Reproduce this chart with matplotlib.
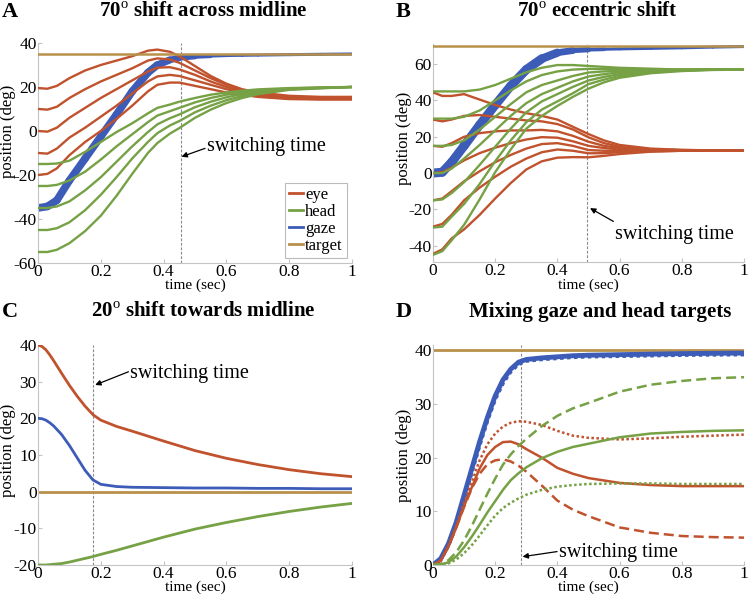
import numpy as np
import matplotlib
matplotlib.use('Agg')
import matplotlib.pyplot as plt
from matplotlib.collections import LineCollection
from matplotlib.lines import Line2D

plt.rcParams['font.family'] = ['Liberation Serif', 'DejaVu Serif']
plt.rcParams['mathtext.fontset'] = 'custom'
plt.rcParams['mathtext.rm'] = 'Liberation Serif'
plt.rcParams['mathtext.bf'] = 'Liberation Serif:bold'
plt.rcParams['axes.unicode_minus'] = False

EYE = '#c0522d'
HEAD = '#76a145'
GAZE = '#3d5cb8'
TARGET = '#b8914b'

# ---- panel A: 70 deg shift across midline ----
tA = [0, .03, .06, .1, .15, .2, .25, .3, .35, .38, .42, .45, .5, .55, .6, .65, .7, .8, .9, 1]
eyeA = [
    [19.5, 19.2, 20.5, 24, 27.5, 30, 32, 34, 36.5, 37, 36, 34, 29.5, 25, 21.5, 19, 17.5, 16, 15.5, 15.5],
    [10, 9.7, 11, 15, 19, 22.5, 25.5, 28.5, 32, 33, 32.5, 31, 27.5, 24, 21, 18.5, 17, 15.5, 15, 15],
    [0, -0.3, 1.5, 6, 10.5, 15, 19, 23, 27, 28.8, 29, 28, 25.5, 22.5, 20, 18, 16.5, 15, 14.8, 14.8],
    [-10, -10.3, -8, -3, 1.5, 6.5, 11.5, 17, 22.5, 24.8, 25.5, 25, 23, 21, 19, 17.5, 16, 14.8, 14.5, 14.5],
    [-20, -19.5, -17, -11, -5, 0, 5.5, 11.5, 18, 21, 22, 22, 20.5, 19, 17.5, 16.5, 15.5, 14.5, 14.3, 14.3],
]
headA = [
    [-15, -15, -14.8, -13.5, -9.5, -5, -0.5, 3.5, 8, 10.5, 12, 13.3, 15, 16.5, 17.5, 18.3, 18.9, 19.5, 19.8, 20],
    [-25, -25, -24.5, -22.5, -18.5, -13, -7, -1.5, 4, 7, 9, 10.5, 13, 15, 16.5, 17.5, 18.4, 19.3, 19.7, 20],
    [-35, -35, -34.3, -32, -27, -21, -14, -7, -0.5, 3, 5.8, 7.5, 10.8, 13.3, 15.3, 16.8, 17.9, 19.1, 19.6, 20],
    [-45, -45, -44.2, -41.5, -36, -29, -21, -12.5, -5, -1, 2.5, 4.5, 8.5, 11.5, 14, 15.9, 17.3, 18.9, 19.5, 20],
    [-55, -55, -54, -51, -45.5, -38.5, -29.5, -19.5, -10, -5.5, -1.2, 1.3, 6, 9.7, 12.7, 15, 16.7, 18.7, 19.4, 20],
]
gazeA = [-35, -34.3, -31.5, -22.5, -12.5, -2.5, 7.5, 18, 26.5, 30, 32.3, 33.2, 33.8, 34.1, 34.3, 34.4, 34.5, 34.7, 34.85, 35]
targetA = 35
switchA = 0.455

# ---- panel B: 70 deg eccentric shift ----
tB = [0, .03, .06, .1, .15, .2, .25, .3, .35, .4, .45, .5, .55, .6, .7, .8, .9, 1]
eyeB = [
    [44.5, 42.5, 42.5, 43.5, 40.5, 37.5, 35, 33, 31.5, 29.5, 25.5, 21.5, 18, 15.5, 13.5, 12.8, 12.5, 12.5],
    [29.5, 28.5, 29.5, 31.5, 32, 31, 30, 29, 28.5, 27, 24, 19.7, 16.5, 14.5, 13, 12.7, 12.5, 12.5],
    [15, 14.5, 16.5, 20, 22, 23, 23.5, 23.5, 23.8, 23, 20.5, 17.3, 15, 13.8, 13, 12.6, 12.5, 12.5],
    [0, 0.5, 3, 7, 11, 14, 16.5, 18.5, 19.8, 19.5, 17.5, 15, 13.8, 13, 12.6, 12.5, 12.5, 12.5],
    [-15, -14, -10, -4.5, 1, 6, 10, 13.5, 16, 16.5, 15, 12.7, 12.3, 12.2, 12.3, 12.4, 12.5, 12.5],
    [-29.5, -28, -23, -15, -8, -2, 3.5, 8, 11.5, 13, 12.3, 10.9, 11, 11.5, 12, 12.3, 12.5, 12.5],
    [-44.5, -42, -36, -31, -23, -14, -5.5, 2, 6.5, 8.5, 8.8, 8.7, 9.5, 10.5, 11.8, 12.3, 12.5, 12.5],
]
headB = [
    [45, 45, 45, 45, 46, 48.5, 52, 55.5, 58, 59.5, 59.5, 59, 58.5, 58, 57.5, 57, 57, 57],
    [30, 30, 30, 31, 34.5, 40, 45.5, 50.5, 54, 56, 57, 57.4, 57.3, 57.2, 57, 57, 57, 57],
    [15, 15, 15.5, 18, 24, 31, 38, 44.5, 48.5, 51, 53.5, 55.4, 56, 56.3, 56.8, 57, 57, 57],
    [0, 0, 2.5, 8, 15.5, 23.5, 31.5, 38.5, 43.5, 47, 50.5, 53.2, 54.5, 55.5, 56.3, 56.7, 57, 57],
    [-15, -14.5, -11, -5, 4.5, 14.5, 24.5, 33.5, 39.5, 43.5, 47.5, 51, 53, 54.5, 56, 56.5, 57, 57],
    [-30, -29.5, -24, -17, -6, 6.5, 18, 28, 35, 39.5, 44, 49, 51.5, 53.5, 55.5, 56.5, 57, 57],
    [-45, -43, -37, -28.5, -14.5, 0.5, 13, 24.5, 31.5, 37, 42, 46.5, 50, 52.5, 55, 56.2, 56.8, 57],
]
gazeB = [0, 0.5, 6, 15, 26.5, 37.5, 48, 57, 63, 66.3, 67.5, 68, 68.2, 68.4, 68.7, 69, 69.4, 69.7]
targetB = 70
switchB = 0.495

# ---- panel C: 20 deg shift towards midline ----
tC = [0, .0125, .025, .0375, .05, .075, .1, .125, .15, .175, .2, .25, .3, .4, .5, .6, .7, .8, .9, 1]
eyeC = [40, 39.6, 38.7, 37.3, 35.7, 32.3, 29, 26, 23.3, 21, 19.5, 17.8, 16.5, 13.8, 11.2, 9.1, 7.4, 6, 4.9, 4.1]
headC = [-20, -20, -20, -19.9, -19.8, -19.6, -19.2, -18.7, -18.2, -17.7, -17.1, -16, -14.8, -12.4, -10.2, -8.4, -6.8, -5.4, -4.2, -3.2]
gazeC = [20, 19.9, 19.5, 18.8, 17.9, 15.6, 12.6, 9.2, 5.8, 3.2, 2, 1.4, 1.2, 1.1, 1.0, 1.0, 0.9, 0.9, 0.8, 0.8]
targetC = 0
switchC = 0.174

# ---- panel D: mixing gaze and head targets ----
tD = [0, .025, .05, .075, .1, .125, .15, .175, .2, .225, .25, .275, .3, .35, .4, .45, .5, .6, .7, .8, .9, 1]
gazeD_solid = [0, 1.2, 4, 8, 13, 18, 23, 27.5, 31.5, 34.5, 36.5, 37.8, 38.3, 38.6, 38.8, 39, 39.1, 39.2, 39.3, 39.4, 39.45, 39.5]
gazeD_dotted = [0, 1, 3.6, 7.4, 12.2, 17.2, 22.2, 26.8, 30.8, 33.8, 36, 37.4, 38, 38.3, 38.5, 38.7, 38.8, 38.9, 39, 39.1, 39.15, 39.2]
eyeD_solid = [0, 0.8, 3.5, 7, 11, 14.5, 18, 20.5, 22, 22.9, 23, 22.5, 21.6, 20, 18.1, 17, 16.2, 15.3, 14.9, 14.7, 14.7, 14.7]
eyeD_dotted = [0, 0.8, 3.6, 7.3, 11.5, 15.5, 19.5, 22.5, 24.5, 25.8, 26.5, 26.8, 26.7, 26.1, 25, 24.1, 23.7, 23.4, 23.6, 23.9, 24.1, 24.3]
eyeD_dashed = [0, 0.8, 3.5, 7, 10.8, 14.3, 17, 18.8, 19.5, 19.7, 19.3, 18.5, 17.4, 14.8, 12, 10.3, 9.1, 7, 6, 5.4, 5.2, 5.1]
headD_solid = [0, 0.1, 0.5, 1.6, 3.3, 5.3, 7.5, 9.8, 11.9, 14, 15.8, 17.1, 18.2, 19.9, 21.1, 22, 22.6, 23.8, 24.5, 24.8, 25, 25.1]
headD_dashed = [0, 0.2, 0.9, 2.4, 4.6, 7.3, 10.3, 13.3, 16.1, 18.7, 20.6, 22.2, 23.5, 25.9, 27.8, 29.2, 30.2, 32.3, 33.6, 34.3, 34.8, 35]
headD_dotted = [0, 0.05, 0.3, 1, 2.2, 3.7, 5.5, 7.4, 9.2, 10.6, 11.6, 12.4, 13.1, 14, 14.6, 14.9, 15.1, 15.2, 15.2, 15.1, 15.1, 15.1]
targetD = 40
switchD = 0.282


def gaze_band(ax, t, g, w_ramp, w_tail, t_end):
    # thick overlapping gaze traces drawn as one line getting thinner
    t = np.asarray(t, float)
    g = np.asarray(g, float)
    pts = np.column_stack([t, g]).reshape(-1, 1, 2)
    segs = np.concatenate([pts[:-1], pts[1:]], axis=1)
    mid = 0.5 * (t[:-1] + t[1:])
    lw = np.interp(mid, [0, t_end, t_end + 0.2, 1], [w_ramp, w_ramp, w_tail, w_tail])
    lc = LineCollection(segs, linewidths=lw, colors=GAZE, capstyle='round',
                        joinstyle='round', zorder=2)
    ax.add_collection(lc)


def style(ax, ylim, yticks, ylab_y):
    ax.set_xlim(0, 1)
    ax.set_ylim(*ylim)
    ax.set_xticks([0, .2, .4, .6, .8, 1])
    ax.set_xticklabels(['0', '0.2', '0.4', '0.6', '0.8', '1'])
    ax.set_yticks(yticks)
    for s in ['top', 'right']:
        ax.spines[s].set_visible(False)
    for s in ['left', 'bottom']:
        ax.spines[s].set_color('#c4c4c4')
    ax.tick_params(direction='in', length=3, color='#c4c4c4', labelsize=12.5, pad=1)
    ax.set_xlabel('time (sec)', fontsize=11, labelpad=-1)
    ax.set_ylabel('position (deg)', fontsize=12)
    # label anchor is its right (bottom) edge
    ax.yaxis.set_label_coords(-0.069, ylab_y)


def switching(ax, x, tail, head, txt):
    ax.axvline(x, color='#8a8a8a', lw=0.8, ls=(0, (2.5, 1.5)), zorder=1)
    ax.annotate('', xy=head, xytext=tail,
                arrowprops=dict(arrowstyle='-|>', color='black', lw=0.9,
                                shrinkA=0, shrinkB=0, mutation_scale=8))
    ax.text(txt[0], txt[1], 'switching time', fontsize=14.5, ha='left', va='center')


fig = plt.figure(figsize=(7.5, 5.97), dpi=100)
axA = fig.add_axes([0.0507, 0.5595, 0.4186, 0.3685])
axB = fig.add_axes([0.5773, 0.561, 0.4147, 0.365])
axC = fig.add_axes([0.0507, 0.0536, 0.4186, 0.3685])
axD = fig.add_axes([0.5773, 0.0536, 0.4147, 0.3685])

# A
gaze_band(axA, tA, gazeA, 5.5, 2.2, 0.38)
for e in eyeA:
    axA.plot(tA, e, color=EYE, lw=1.7, zorder=3)
for h in headA:
    axA.plot(tA, h, color=HEAD, lw=1.7, zorder=3)
axA.axhline(targetA, color=TARGET, lw=1.8, zorder=4)
style(axA, (-60, 40), [-60, -40, -20, 0, 20, 40], 0.60)
switching(axA, switchA, (0.532, -7.9), (0.457, -11.7), (0.537, -7.1))
handles = [Line2D([], [], color=c, lw=2) for c in (EYE, HEAD, GAZE, TARGET)]
leg = axA.legend(handles, ['eye', 'head', 'gaze', 'target'], loc='lower right',
                 fontsize=12, handlelength=0.8, handletextpad=0.15, labelspacing=0.05,
                 borderpad=0.25, borderaxespad=0.3, fancybox=False, framealpha=1)
leg.get_frame().set_edgecolor('#bbbbbb')
leg.get_frame().set_linewidth(0.8)

# B
gaze_band(axB, tB, gazeB, 6.5, 2.2, 0.35)
for e in eyeB:
    axB.plot(tB, e, color=EYE, lw=1.7, zorder=3)
for h in headB:
    axB.plot(tB, h, color=HEAD, lw=1.7, zorder=3)
axB.axhline(targetB, color=TARGET, lw=1.8, zorder=4)
style(axB, (-49, 71), [-40, -20, 0, 20, 40, 60], 0.57)
switching(axB, switchB, (0.58, -26.6), (0.505, -19.3), (0.586, -34))

# C
axC.plot(tC, eyeC, color=EYE, lw=2, zorder=3)
axC.plot(tC, headC, color=HEAD, lw=2, zorder=3)
axC.plot(tC, gazeC, color=GAZE, lw=2, zorder=3)
axC.axhline(targetC, color=TARGET, lw=2, zorder=2)
style(axC, (-20, 40), [-20, -10, 0, 10, 20, 30, 40], 0.52)
switching(axC, switchC, (0.288, 32.7), (0.182, 29.1), (0.293, 32.3))

# D
axD.axhline(targetD, color=TARGET, lw=2, zorder=2)
axD.plot(tD, gazeD_dotted, color=GAZE, lw=2.5, ls=(0, (1, 1)), zorder=3)
axD.plot(tD, gazeD_solid, color=GAZE, lw=3.5, zorder=3)
axD.plot(tD, eyeD_solid, color=EYE, lw=1.8, zorder=4)
axD.plot(tD, eyeD_dotted, color=EYE, lw=1.8, ls=(0, (1, 1)), zorder=4)
axD.plot(tD, eyeD_dashed, color=EYE, lw=1.8, ls=(0, (4, 2)), zorder=4)
axD.plot(tD, headD_solid, color=HEAD, lw=1.8, zorder=4)
axD.plot(tD, headD_dashed, color=HEAD, lw=1.8, ls=(0, (4, 2)), zorder=4)
axD.plot(tD, headD_dotted, color=HEAD, lw=1.8, ls=(0, (1, 1)), zorder=4)
style(axD, (0, 41), [0, 10, 20, 30, 40], 0.50)
switching(axD, switchD, (0.399, 2.5), (0.288, 1.55), (0.405, 2.4))

# titles and panel letters
fig.text(0.271, 0.98, r'70$^{\mathrm{o}}$ shift across midline', fontsize=15,
         fontweight='bold', ha='center', va='center')
fig.text(0.797, 0.98, r'70$^{\mathrm{o}}$ eccentric shift', fontsize=15,
         fontweight='bold', ha='center', va='center')
fig.text(0.271, 0.477, r'20$^{\mathrm{o}}$ shift towards midline', fontsize=15,
         fontweight='bold', ha='center', va='center')
fig.text(0.80, 0.477, 'Mixing gaze and head targets', fontsize=15,
         fontweight='bold', ha='center', va='center')
for x, y, s in [(0.003, 0.98, 'A'), (0.527, 0.98, 'B'), (0.003, 0.477, 'C'), (0.527, 0.477, 'D')]:
    fig.text(x, y, s, fontsize=16, fontweight='bold', ha='left', va='center')

fig.savefig('out.png', dpi=100)
